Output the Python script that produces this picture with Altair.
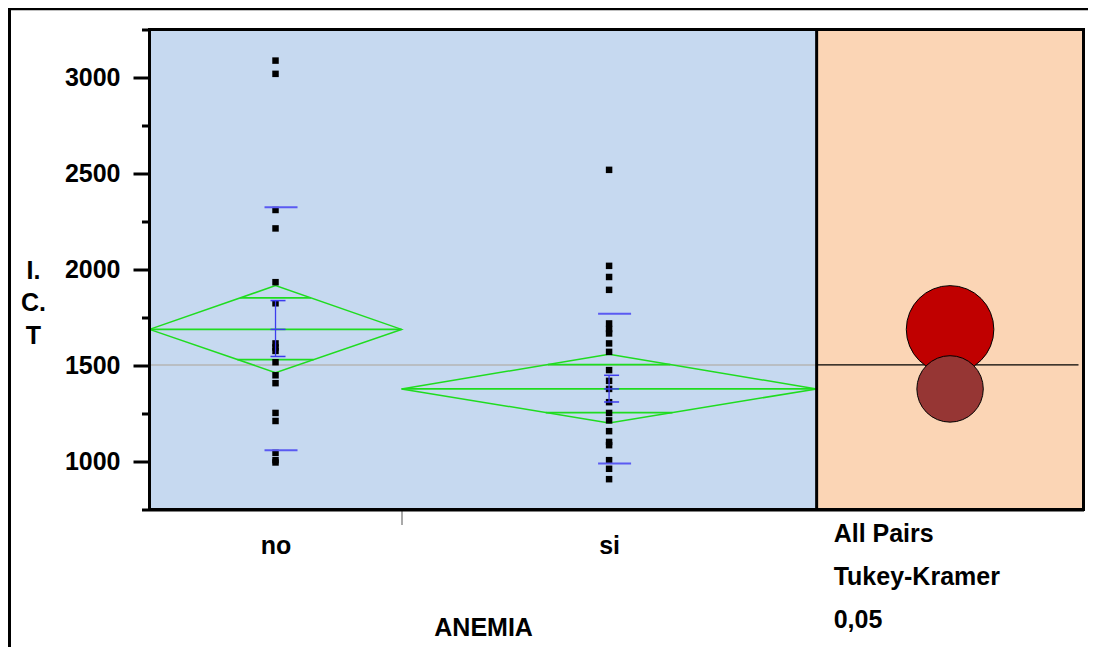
import altair as alt
import pandas as pd

# ---------------- data ----------------
groups = ["no", "si"]
group_n = [17, 28]            # group sizes (diamond widths are proportional to them)
compare_units = 18            # width of the comparison-circle panel, same units

no_values = [3088, 3019, 2310, 2214, 1934, 1824, 1615, 1594, 1576, 1517,
             1449, 1408, 1253, 1211, 1045, 1007, 995]
si_values = [2519, 2019, 1961, 1894, 1719, 1690, 1667, 1615, 1571, 1476,
             1420, 1378, 1309, 1253, 1214, 1158, 1102, 1085, 1007, 962, 908]

means = [1688, 1378]
ci_hi = [1916, 1558]
ci_lo = [1463, 1201]
overlap_hi = [1852, 1505]
overlap_lo = [1531, 1255]
se_hi = [1838, 1449]
se_lo = [1547, 1310]
sd_hi = [2324, 1769]
sd_lo = [1059, 990]
grand_mean = 1503
circle_radius = [228, 173]

y_ticks = list(range(750, 3251, 250))
y_major = [1000, 1500, 2000, 2500, 3000]
note_lines = ["All Pairs", "Tukey-Kramer", "\u00a00,05"]

# ---------------- layout / style ----------------
YMIN, YMAX = 750, 3250
W, H = 934, 480
FONT = "Liberation Sans"
FS = 25
BLUE = "#C6D9F0"
ORANGE = "#FBD5B5"
GREEN = "#1FDC1F"
SDBLUE = "#5A5AF2"
SEBLUE = "#3C3CEE"
CIRCLE_FILLS = ["#C00000", "#963634"]

N = sum(group_n)
XMAX = N + compare_units
starts = [sum(group_n[:i]) for i in range(len(groups))]
ends = [s + n for s, n in zip(starts, group_n)]
centers = [(s + e) / 2 for s, e in zip(starts, ends)]
ppu = H / (YMAX - YMIN)

xscale = alt.Scale(domain=[0, XMAX], nice=False, zero=False)
yscale = alt.Scale(domain=[YMIN, YMAX], nice=False, zero=False)

# x axis: labels at group centres, grey tick at group dividers
dividers = starts[1:]
lab = "''"
for g, c in reversed(list(zip(groups, centers))):
    lab = f"datum.value == {c} ? '{g}' : ({lab})"
div_test = f"indexof({dividers}, datum.value) >= 0"
x_axis = alt.Axis(
    values=sorted(centers + dividers), labelExpr=lab,
    title="ANEMIA", titleFont=FONT, titleFontSize=FS, titleFontWeight="bold",
    titleColor="black", titleX=W * N / XMAX / 2, titleY=126.2,
    titleBaseline="alphabetic", titleAlign="center",
    labelFont=FONT, labelFontSize=FS, labelFontWeight="bold", labelColor="black",
    labelBaseline="alphabetic", labelPadding=28.5, labelOverlap=False,
    ticks=True, tickSize=15, tickWidth=1.5, tickColor="#8C8C8C",
    tickOpacity={"condition": {"test": div_test, "value": 1}, "value": 0},
    domainColor="black", domainWidth=3, grid=False,
)
major_test = f"indexof({y_major}, datum.value) >= 0"
y_axis = alt.Axis(
    values=y_ticks, labelExpr=f"{major_test} ? datum.label : ''", format="d",
    title=["I.", "C.", "T"], titleAngle=0, titleAlign="center", titleX=-116.5,
    titleY=248.5, titleBaseline="alphabetic", titleLineHeight=32.5,
    titleFont=FONT, titleFontSize=FS, titleFontWeight="bold", titleColor="black",
    labelFont=FONT, labelFontSize=FS, labelFontWeight="bold", labelColor="black",
    labelPadding=13, labelOverlap=False,
    tickSize={"condition": {"test": major_test, "value": 16.5}, "value": 8},
    tickWidth=3, tickColor="black", domainColor="black", domainWidth=3, grid=False,
)

# ---------------- tables ----------------
panels = pd.DataFrame({"x0": [0, N], "x1": [N, XMAX], "y0": [YMIN, YMIN],
                       "y1": [YMAX, YMAX], "fill": [BLUE, ORANGE]})

pts = pd.DataFrame({
    "x": [centers[0]] * len(no_values) + [centers[1]] * len(si_values),
    "y": no_values + si_values,
})

dia_rows = []
for i, g in enumerate(groups):
    seq = [(starts[i], means[i]), (centers[i], ci_hi[i]), (ends[i], means[i]),
           (centers[i], ci_lo[i]), (starts[i], means[i])]
    for k, (x, y) in enumerate(seq):
        dia_rows.append({"g": g, "k": k, "x": x, "y": y})
dia = pd.DataFrame(dia_rows)

hl_rows = []
for i, g in enumerate(groups):
    half = (ends[i] - starts[i]) / 2
    hl_rows.append({"x0": starts[i], "x1": ends[i], "y": means[i]})
    for ov, ci in ((overlap_hi[i], ci_hi[i]), (overlap_lo[i], ci_lo[i])):
        w = half * (1 - (ov - means[i]) / (ci - means[i]))
        hl_rows.append({"x0": centers[i] - w, "x1": centers[i] + w, "y": ov})
hlines = pd.DataFrame(hl_rows)

sd = pd.DataFrame({"x": centers * 2, "y": sd_hi + sd_lo})
caps = pd.DataFrame({"x": centers * 3, "y": se_hi + se_lo + means})
sebar = pd.DataFrame({"x": centers, "y0": se_lo, "y1": se_hi})

gm_blue = pd.DataFrame({"x0": [0], "x1": [N], "y": [grand_mean]})
gm_orange = pd.DataFrame({"x0": [N], "x1": [XMAX], "y": [grand_mean]})

circ = pd.DataFrame({
    "x": [N + compare_units / 2] * len(groups),
    "y": means,
    "size": [(2 * r * ppu) ** 2 for r in circle_radius],
    "fill": CIRCLE_FILLS,
})
frame = pd.DataFrame({"x0": [0], "x1": [XMAX], "y0": [YMIN], "y1": [YMAX]})
sep = pd.DataFrame({"x": [N]})
note = pd.DataFrame({"x": [N]})

# ---------------- layers ----------------
bg = alt.Chart(panels).mark_rect().encode(
    x=alt.X("x0:Q", scale=xscale, axis=x_axis), x2="x1",
    y=alt.Y("y0:Q", scale=yscale, axis=y_axis), y2="y1",
    fill=alt.Fill("fill:N", scale=None),
)
gm1 = alt.Chart(gm_blue).mark_rule(color="#B4B4B4", strokeWidth=1.5).encode(
    x="x0:Q", x2="x1", y="y:Q")
gm2 = alt.Chart(gm_orange).mark_rule(color="black", strokeWidth=1.2, x2Offset=-5).encode(
    x="x0:Q", x2="x1", y="y:Q")
diamonds = alt.Chart(dia).mark_line(color=GREEN, strokeWidth=1.5).encode(
    x="x:Q", y="y:Q", detail="g:N", order="k:Q")
hl = alt.Chart(hlines).mark_rule(color=GREEN, strokeWidth=1.8).encode(
    x="x0:Q", x2="x1", y="y:Q")
points = alt.Chart(pts).mark_square(size=42, color="black", opacity=1).encode(
    x="x:Q", y="y:Q")
sdl = alt.Chart(sd).mark_rule(color=SDBLUE, strokeWidth=2, xOffset=-11, x2Offset=22).encode(
    x="x:Q", x2="x:Q", y="y:Q")
sev = alt.Chart(sebar).mark_rule(color=SEBLUE, strokeWidth=1.3).encode(
    x="x:Q", y="y0:Q", y2="y1")
sec = alt.Chart(caps).mark_rule(color=SEBLUE, strokeWidth=1.5, xOffset=-5, x2Offset=10).encode(
    x="x:Q", x2="x:Q", y="y:Q")
circles = alt.Chart(circ).mark_point(shape="circle", filled=True, opacity=1,
                                      stroke="black", strokeWidth=1).encode(
    x="x:Q", y="y:Q", fill=alt.Fill("fill:N", scale=None),
    size=alt.Size("size:Q", scale=None))
fr = alt.Chart(frame).mark_rect(filled=False, stroke="black", strokeWidth=3).encode(
    x="x0:Q", x2="x1", y="y0:Q", y2="y1")
sp = alt.Chart(sep).mark_rule(color="black", strokeWidth=3).encode(
    x="x:Q", y=alt.value(0), y2=alt.value(H))
notes = alt.Chart(note).mark_text(
    text=note_lines, align="left", baseline="alphabetic", lineHeight=43,
    font=FONT, fontSize=FS, fontWeight="bold", color="black", dx=17,
).encode(x="x:Q", y=alt.value(512.2))
outer = alt.Chart(note).mark_rect(filled=False, stroke="black", strokeWidth=3).encode(
    x=alt.value(-140), x2=alt.value(W + 200), y=alt.value(-20.8), y2=alt.value(H + 300))

chart = alt.layer(
    bg, gm1, gm2, diamonds, hl, points, sdl, sev, sec, circles, fr, sp, notes, outer
).properties(
    width=W, height=H,
    padding={"left": 141.5, "top": 21.5, "right": 4.5, "bottom": 137},
    autosize=alt.AutoSizeParams(type="none"),
    background="white",
).configure_view(strokeWidth=0).configure(font=FONT)

chart.save("out.html", embed_options={"renderer": "svg", "actions": False})
